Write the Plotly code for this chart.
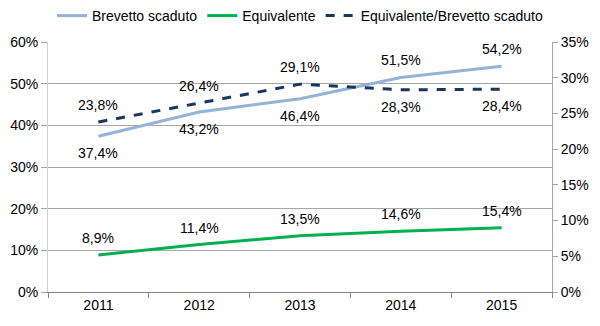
import plotly.graph_objects as go

years = ["2011", "2012", "2013", "2014", "2015"]
brevetto = [37.4, 43.2, 46.4, 51.5, 54.2]
equivalente = [8.9, 11.4, 13.5, 14.6, 15.4]
rapporto = [23.8, 26.4, 29.1, 28.3, 28.4]
brevetto_pos = [-1, -1, -1, 1, 1]
equivalente_pos = [1, 1, 1, 1, 1]
rapporto_pos = [1, 1, 1, -1, -1]

def lab(x):
    return f"{x:.1f}%".replace(".", ",")

FONT = "Liberation Sans"
fig = go.Figure()
fig.add_trace(go.Scatter(
    x=years, y=brevetto, name="Brevetto scaduto", mode="lines",
    line=dict(color="#95B3D7", width=3),
))
fig.add_trace(go.Scatter(
    x=years, y=equivalente, name="Equivalente", mode="lines",
    line=dict(color="#00B050", width=3),
))
fig.add_trace(go.Scatter(
    x=years, y=rapporto, name="Equivalente/Brevetto scaduto", mode="lines",
    line=dict(color="#17375E", width=3, dash="dash"),
    yaxis="y2",
))

for vals, pos, yref in [(brevetto, brevetto_pos, "y"), (equivalente, equivalente_pos, "y"),
                        (rapporto, rapporto_pos, "y2")]:
    for i, (yv, p) in enumerate(zip(vals, pos)):
        fig.add_annotation(x=i, y=yv, xref="x", yref=yref, text=lab(yv), showarrow=False,
                           yshift=17 * p, font=dict(size=14, color="#000000"))

fig.update_layout(
    width=600, height=326,
    margin=dict(l=48, r=48, t=42, b=34, autoexpand=False),
    paper_bgcolor="white", plot_bgcolor="white",
    font=dict(family=FONT, size=14, color="#000000"),
    showlegend=True,
    legend=dict(orientation="h", x=0.5, xanchor="center", y=1, yref="container", yanchor="top",
                font=dict(size=14), itemwidth=30, tracegroupgap=0),
    xaxis=dict(type="category", range=[-0.5, 4.5], showline=True, linecolor="#868686",
               ticks="outside", tickson="boundaries", ticklen=5, tickcolor="#868686",
               showgrid=False, mirror=False),
    yaxis=dict(range=[0, 60], dtick=10, ticksuffix="%", showgrid=True, gridcolor="#A6A6A6",
               showline=True, linecolor="#D0D0D0", ticks="outside", ticklen=6, tickcolor="#A6A6A6",
               zeroline=False),
    yaxis2=dict(range=[0, 35], dtick=5, ticksuffix="%", overlaying="y", side="right",
                showgrid=False, showline=True, linecolor="#A6A6A6", ticks="outside",
                ticklen=5, tickcolor="#A6A6A6", zeroline=False),
)

fig.write_html("out.html")
